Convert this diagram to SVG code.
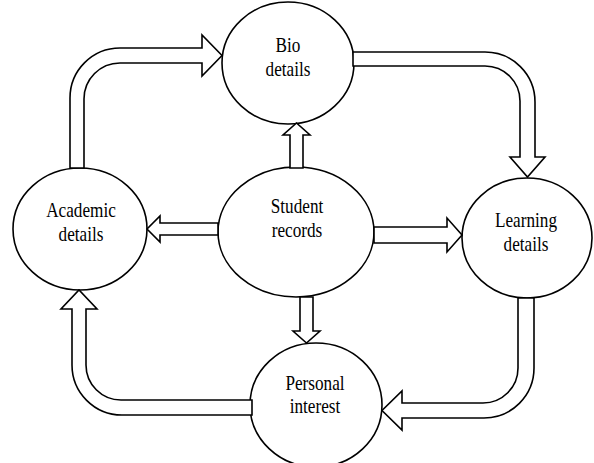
<svg xmlns="http://www.w3.org/2000/svg" width="594" height="463" viewBox="0 0 594 463">
<style>
.node{fill:#fff;stroke:#000;stroke-width:1.6}
.arr{fill:#fff;stroke:#000;stroke-width:1.6;stroke-linejoin:miter}
.t{font-family:"Liberation Serif","Times New Roman",serif;font-size:20px;fill:#000;text-anchor:middle}
</style>
<rect width="594" height="463" fill="#fff"/>
<g id="nodes">
<g id="bio"><ellipse class="node" cx="288" cy="63" rx="66" ry="61"/><text class="t" transform="translate(288,52) scale(0.86,1)">Bio</text><text class="t" transform="translate(288,76) scale(0.86,1)">details</text></g>
<g id="academic"><ellipse class="node" cx="80" cy="229" rx="67" ry="61"/><text class="t" transform="translate(81,217) scale(0.86,1)">Academic</text><text class="t" transform="translate(81,241) scale(0.86,1)">details</text></g>
<g id="student"><ellipse class="node" cx="296" cy="232" rx="78" ry="65"/><text class="t" transform="translate(297,213) scale(0.86,1)">Student</text><text class="t" transform="translate(297,237) scale(0.86,1)">records</text></g>
<g id="learning"><ellipse class="node" cx="527" cy="238" rx="65" ry="60"/><text class="t" transform="translate(526,227) scale(0.86,1)">Learning</text><text class="t" transform="translate(526,251) scale(0.86,1)">details</text></g>
<g id="personal"><ellipse class="node" cx="316" cy="405" rx="66" ry="62"/><text class="t" transform="translate(315,390) scale(0.86,1)">Personal</text><text class="t" transform="translate(315,413) scale(0.86,1)">interest</text></g>
</g>
<g id="connectors">
<path class="arr" d="M70,168 V98 A50,50 0 0 1 120,48 H202 V35 L222,55.5 L202,76 V63 H120 A36,36 0 0 0 84,99 V168 Z"/>
<path class="arr" d="M353,52 H485 A50,50 0 0 1 535,102 V157 H545 L527.5,177 L510,157 H520 V101 A35,35 0 0 0 485,66 H353 Z"/>
<path class="arr" d="M218,223 H160 V216 L147,229 L160,242 V235 H218 Z"/>
<path class="arr" d="M374,227 H447 V218 L462,235 L447,252 V243 H374 Z"/>
<path class="arr" d="M290,168 V135 H283 L296.5,123 L310,135 H303 V168 Z"/>
<path class="arr" d="M300,297 V331 H293 L306.5,343 L320,331 H313 V297 Z"/>
<path class="arr" d="M252,400 H121 A35,35 0 0 1 86,365 V309 H97 L79,290 L61,309 H72 V365 A50,50 0 0 0 122,415 H252 Z"/>
<path class="arr" d="M518,298 V368 A35,35 0 0 1 483,403 H402 V391 L382,410.5 L402,430 V418 H484 A50,50 0 0 0 534,368 V298 Z"/>
</g>
</svg>
